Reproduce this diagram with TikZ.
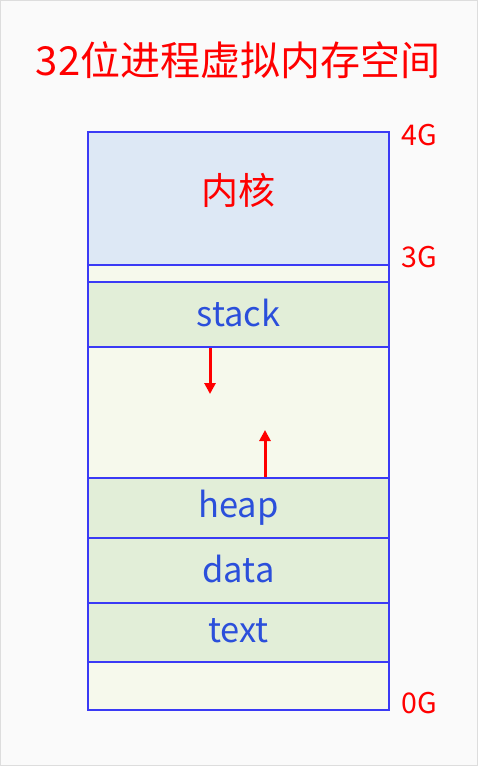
\documentclass[tikz,border=0pt]{standalone}
\usepackage{fontspec}
\setmainfont{Noto Sans CJK SC}
\usetikzlibrary{arrows.meta}
\definecolor{bg}{HTML}{FAFAFA}
\definecolor{frame}{HTML}{DDDDDD}
\definecolor{edge}{HTML}{3A3AF5}
\definecolor{kern}{HTML}{DDE8F5}
\definecolor{pale}{HTML}{F6F9EC}
\definecolor{seg}{HTML}{E2EED8}
\definecolor{lbl}{HTML}{2B4FDB}
\definecolor{rd}{HTML}{FF0000}
\tikzset{
  region/.style={draw=edge, line width=1.2pt, inner sep=0pt, outer sep=0pt},
  seglabel/.style={text=lbl, font=\fontsize{34.5}{34.5}\selectfont},
  gmark/.style={text=rd, anchor=west, font=\fontsize{28.5}{28.5}\selectfont},
  growth/.style={draw=rd, line width=3pt, -{Triangle[length=11pt,width=11pt]}}
}
\begin{document}
\begin{tikzpicture}[x=1pt,y=-1pt]
\path[fill=bg, draw=frame, line width=1pt] (0.5,0.5) rectangle (477.5,765.5);
\useasboundingbox (0,0) rectangle (478,766);
\node[text=rd, font=\fontsize{40}{40}\selectfont] (title) at (238,60) {32位进程虚拟内存空间};
% regions
\path[region, fill=kern] (88,132) rectangle (389,265);
\node[text=rd, font=\fontsize{37}{37}\selectfont] (kernel) at (238.5,190) {内核};
\path[region, fill=pale] (88,265) rectangle (389,282);
\path[region, fill=seg] (88,282) rectangle (389,347);
\node[seglabel] (stack) at (238.5,313) {stack};
\path[region, fill=pale] (88,347) rectangle (389,478);
\path[region, fill=seg] (88,478) rectangle (389,538);
\node[seglabel] (heap) at (238.5,508) {heap};
\path[region, fill=seg] (88,538) rectangle (389,603);
\node[seglabel] (data) at (238.5,569) {data};
\path[region, fill=seg] (88,603) rectangle (389,662);
\node[seglabel] (text) at (238.5,631) {text};
\path[region, fill=pale] (88,662) rectangle (389,710);
% growth arrows
\coordinate (s0) at (210,348);
\coordinate (s1) at (210,394);
\coordinate (h0) at (265,477);
\coordinate (h1) at (265,430);
\draw[growth] (s0) -- (s1);
\draw[growth] (h0) -- (h1);
% address marks
\node[gmark] (g4) at (398,135) {4G};
\node[gmark] (g3) at (398,257) {3G};
\node[gmark] (g0) at (398,703) {0G};
\end{tikzpicture}
\end{document}
